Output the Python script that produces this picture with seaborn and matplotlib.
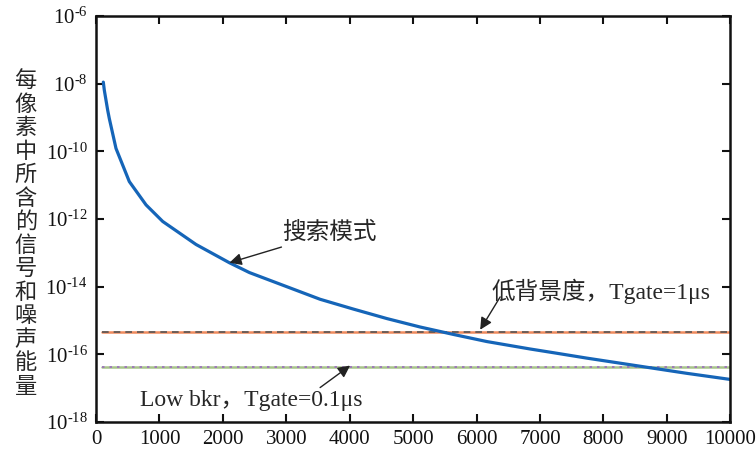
import numpy as np
import pandas as pd
import matplotlib
matplotlib.use("Agg")
import matplotlib.pyplot as plt
import seaborn as sns
from matplotlib.ticker import FixedLocator, FuncFormatter

# 曲线数据（从原图读取，log10 值）
x_search = [115, 131, 184, 210, 315, 525, 789, 1052, 1577, 2103, 2418, 3533,
            4058, 4585, 5110, 5636, 6162, 6845, 7213, 7739, 8265, 8790, 9317, 10000]
log_search = [-7.95, -8.19, -8.78, -9.03, -9.91, -10.89, -11.58, -12.07, -12.75,
              -13.29, -13.58, -14.37, -14.66, -14.94, -15.19, -15.41, -15.62,
              -15.84, -15.95, -16.11, -16.26, -16.41, -16.56, -16.74]
x_flat = [100, 10000]
level_1us = 4.45e-16
level_01us = 4.35e-17

ylabel = "每像素中所含的信号和噪声能量"
label_search = "搜索模式"
label_1us = "低背景度，Tgate=1μs"
label_01us = "Low bkr，Tgate=0.1μs"
yticks = [1e-18, 1e-16, 1e-14, 1e-12, 1e-10, 1e-8, 1e-6]
xticks = list(range(0, 10001, 1000))

sns.set_theme(style="ticks")
plt.rcParams['font.family'] = ['Liberation Serif', 'Noto Sans CJK SC', 'DejaVu Sans']
plt.rcParams['mathtext.fontset'] = 'custom'
plt.rcParams['mathtext.rm'] = 'Liberation Serif'

df = pd.DataFrame({"x": x_search, "y": 10.0 ** np.array(log_search)})

fig = plt.figure(figsize=(7.56, 4.49), dpi=100)
ax = fig.add_axes([0.127, 0.060, 0.839, 0.904])

# 背景水平线
ax.plot(x_flat, [level_1us] * 2, color="#f08a5d", lw=1.8)
ax.plot(x_flat, [level_1us] * 2, color="#555555", lw=1.2, ls=(0, (4, 3)))
ax.plot(x_flat, [level_01us] * 2, color="#a8c48a", lw=1.8)
ax.plot(x_flat, [level_01us] * 2, color="#9a6cc0", lw=1.2, ls=(0, (1.5, 3)))

sns.lineplot(data=df, x="x", y="y", ax=ax, color="#1565b8", lw=2.3)

ax.set_yscale("log")
ax.set_xlim(0, 10000)
ax.set_ylim(1e-18, 1e-6)
ax.xaxis.set_major_locator(FixedLocator(xticks))
ax.yaxis.set_major_locator(FixedLocator(yticks))
ax.yaxis.set_minor_locator(FixedLocator([]))
ax.yaxis.set_major_formatter(FuncFormatter(
    lambda v, p: r"$\mathregular{10^{\text{-}%d}}$" % round(-np.log10(v))))
ax.tick_params(which="both", direction="in", top=True, right=True,
               length=6, width=1.5, labelsize=15, pad=6, colors="#111111")
for s in ax.spines.values():
    s.set_linewidth(1.8)
    s.set_color("#111111")
ax.set_xlabel("")
ax.set_ylabel("")

fig.text(0.034, 0.48, "\n".join(ylabel), ha="center", va="center",
         fontsize=16, linespacing=1.03, family=['Noto Sans CJK SC'])

arrow = dict(arrowstyle="-|>", color="#222222", lw=1.0, mutation_scale=18,
             shrinkA=0, shrinkB=0)
ax.annotate(label_search, xy=(2103, 10 ** -13.29), xytext=(2934, 10 ** -12.40),
            fontsize=17, ha="left", va="center", arrowprops=arrow)
ax.annotate("", xy=(6057, 10 ** -15.27), xytext=(6372, 10 ** -14.30),
            arrowprops=arrow)
ax.text(6230, 10 ** -14.15, label_1us, fontsize=17, ha="left", va="center")
ax.annotate("", xy=(4006, 10 ** -16.33), xytext=(3533, 10 ** -16.98),
            arrowprops=arrow)
ax.text(694, 10 ** -17.37, label_01us, fontsize=17, ha="left", va="center")

fig.savefig("out.png", dpi=100)
